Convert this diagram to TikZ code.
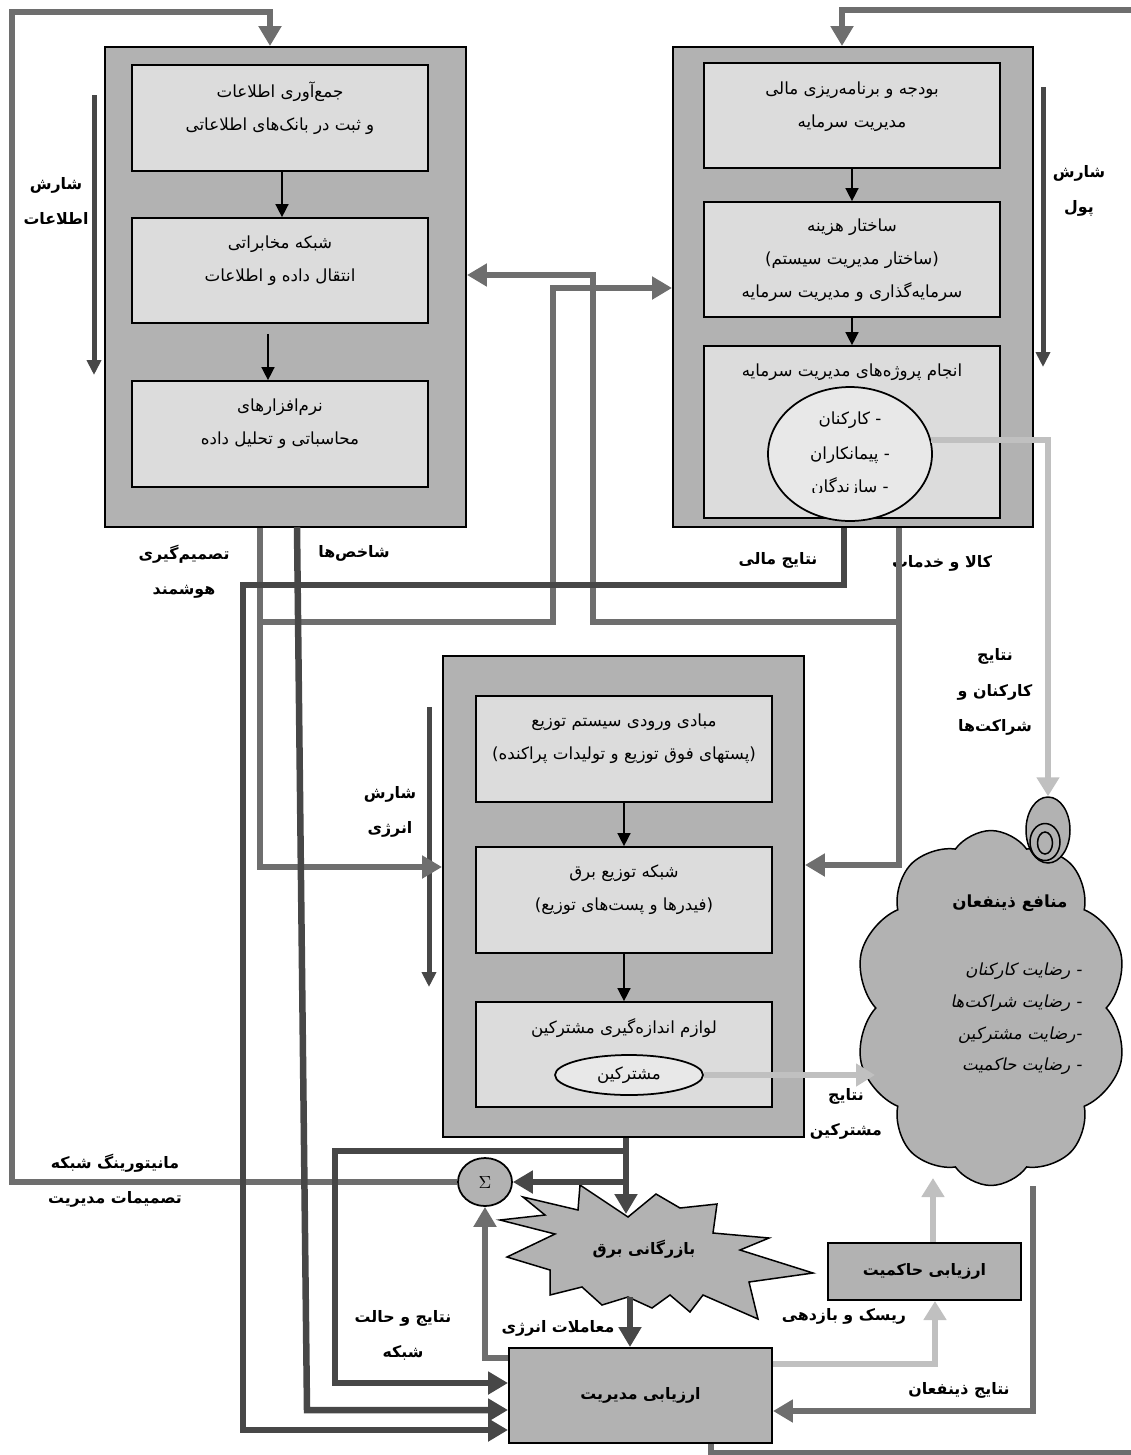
\documentclass[tikz,border=0pt]{standalone}
\usepackage{fontspec}
\newfontfamily\arabicfont[Script=Arabic]{DejaVu Sans}
\newfontfamily\arabicslant[Script=Arabic,FakeSlant=0.2]{DejaVu Sans}
\TeXXeTstate=1
\usetikzlibrary{calc}
\usetikzlibrary{arrows.meta}
\usetikzlibrary{shapes.geometric}
\usetikzlibrary{shapes.symbols}

\definecolor{boxgray}{HTML}{B2B2B2}
\definecolor{ingray}{HTML}{DCDCDC}
\definecolor{ellgray}{HTML}{E8E8E8}
\definecolor{midline}{HTML}{6E6E6E}
\definecolor{darkline}{HTML}{474747}
\definecolor{lightline}{HTML}{C0C0C0}

\newcommand{\fa}[1]{\beginR #1\endR}

\tikzset{
	outerbox/.style={draw, line width=0.04cm, fill=boxgray, minimum width=7.22cm, minimum height=9.6cm, inner sep=0pt},
	inbox/.style={draw, line width=0.035cm, fill=ingray, minimum width=5.92cm, inner sep=0pt},
	ovalbox/.style={draw, ellipse, line width=0.035cm, fill=ellgray, inner sep=0pt, font=\arabicfont\fontsize{9.5}{18.7}\selectfont},
	evalbox/.style={draw, line width=0.04cm, fill=boxgray, inner sep=0pt, font=\arabicfont\bfseries\fontsize{9}{20}\selectfont},
	sigbox/.style={draw, ellipse, line width=0.035cm, fill=boxgray, minimum width=1.08cm, minimum height=0.96cm, inner sep=0pt},
	boxtext/.style={font=\arabicfont\fontsize{9.5}{18.7}\selectfont, align=center, inner sep=0pt},
	flowlabel/.style={font=\arabicfont\bfseries\fontsize{9}{20}\selectfont, align=center, inner sep=0pt},
	wishtext/.style={font=\arabicslant\fontsize{9.5}{18}\selectfont, inner sep=0pt, anchor=east},
	gline/.style={draw=midline, line width=0.13cm, -{Triangle[length=0.4cm,width=0.44cm]}},
	dline/.style={draw=darkline, line width=0.13cm, -{Triangle[length=0.4cm,width=0.44cm]}},
	lline/.style={draw=lightline, line width=0.12cm, -{Triangle[length=0.38cm,width=0.44cm]}},
	tarrow/.style={draw, line width=0.03cm, -{Triangle[length=0.26cm,width=0.26cm]}},
	sarrow/.style={draw=darkline, line width=0.1cm, -{Triangle[length=0.3cm,width=0.28cm]}}
}

\begin{document}
\begin{tikzpicture}[x=0.02cm, y=-0.02cm]
	\useasboundingbox (0,0) rectangle (1131,1455);
	\clip (0,0) rectangle (1131,1455);

	% information block
	\node[outerbox]	(info)	at (285.5,287)	{};
	\node[inbox, minimum height=2.12cm]	(i1)	at (280,118)	{};
	\node[inbox, minimum height=2.1cm]	(i2)	at (280,270.5)	{};
	\node[inbox, minimum height=2.12cm]	(i3)	at (280,434)	{};
	\node[boxtext]	(i1t)	at (280,108)	{\fa{جمع‌آوری اطلاعات}\\\fa{و ثبت در بانک‌های اطلاعاتی}};
	\node[boxtext]	(i2t)	at (280,261)	{\fa{شبکه مخابراتی}\\\fa{انتقال داده و اطلاعات}};
	\node[boxtext]	(i3t)	at (280,424)	{\fa{نرم‌افزارهای}\\\fa{محاسباتی و تحلیل داده}};

	% money block
	\node[outerbox, minimum width=7.2cm]	(fin)	at (853,287)	{};
	\node[inbox, minimum height=2.1cm]	(f1)	at (852,115.5)	{};
	\node[inbox, minimum height=2.3cm]	(f2)	at (852,259.5)	{};
	\node[inbox, minimum height=3.44cm]	(f3)	at (852,432)	{};
	\node[boxtext]	(f1t)	at (852,107)	{\fa{بودجه و برنامه‌ریزی مالی}\\\fa{مدیریت سرمایه}};
	\node[boxtext]	(f2t)	at (852,260)	{\fa{ساختار هزینه}\\\fa{(ساختار مدیریت سیستم)}\\\fa{سرمایه‌گذاری و مدیریت سرمایه}};
	\node[boxtext]	(f3t)	at (852,372)	{\fa{انجام پروژه‌های مدیریت سرمایه}};
	\node[ovalbox, minimum width=3.28cm, minimum height=2.68cm]	(wk)	at (850,454)	{};
	\node[boxtext]	(wk1)	at (850,420)	{\fa{- کارکنان}};
	\node[boxtext]	(wk2)	at (850,455)	{\fa{- پیمانکاران}};
	\begin{scope}
		\clip (760,465) rectangle (940,492);
		\node[boxtext]	(wk3)	at (850,487)	{\fa{- سازندگان}};
	\end{scope}

	% energy block
	\node[outerbox, minimum height=9.62cm]	(en)	at (623.5,896.5)	{};
	\node[inbox, minimum height=2.12cm]	(e1)	at (624,749)	{};
	\node[inbox, minimum height=2.12cm]	(e2)	at (624,900)	{};
	\node[inbox, minimum height=2.1cm]	(e3)	at (624,1054.5)	{};
	\node[boxtext]	(e1t)	at (624,739)	{\fa{مبادی ورودی سیستم توزیع}\\\fa{(پستهای فوق توزیع و تولیدات پراکنده)}};
	\node[boxtext]	(e2t)	at (624,890)	{\fa{شبکه توزیع برق}\\\fa{(فیدرها و پست‌های توزیع)}};
	\node[boxtext]	(e3t)	at (624,1028)	{\fa{لوازم اندازه‌گیری مشترکین}};
	\node[ovalbox, minimum width=2.96cm, minimum height=0.8cm]	(sub)	at (629,1075)	{\fa{مشترکین}};

	% stakeholders cloud
	\node[cloud, cloud puffs=10, cloud puff arc=110, draw, line width=0.03cm, fill=boxgray, minimum width=5.46cm, minimum height=7.1cm, inner sep=0pt]	(cl)	at (991,1008)	{};
	\node[draw, ellipse, line width=0.03cm, fill=boxgray, minimum width=0.88cm, minimum height=1.32cm, inner sep=0pt]	(bump)	at (1048,830)	{};
	\draw[line width=0.03cm] (1045,842) ellipse [x radius=0.3cm, y radius=0.37cm];
	\draw[line width=0.03cm] (1045,843) ellipse [x radius=0.15cm, y radius=0.22cm];
	\node[flowlabel, font=\arabicfont\bfseries\fontsize{9.5}{20}\selectfont]	(clt)	at (1010,903)	{\fa{منافع ذینفعان}};
	\node[wishtext]	(w1)	at (1082,971)	{\fa{- رضایت کارکنان}};
	\node[wishtext]	(w2)	at (1082,1003)	{\fa{- رضایت شراکت‌ها}};
	\node[wishtext]	(w3)	at (1082,1035)	{\fa{-رضایت مشترکین}};
	\node[wishtext]	(w4)	at (1082,1066)	{\fa{- رضایت حاکمیت}};

	% market star
	\draw[line width=0.03cm, fill=boxgray] (523,1197) -- (578,1210) -- (580,1185) -- (628,1217) -- (656,1194) -- (680,1208) -- (717,1204) -- (713,1233) -- (769,1238) -- (740,1250) -- (813,1273) -- (749,1282) -- (758,1319) -- (703,1295) -- (690,1312) -- (670,1295) -- (652,1308) -- (628,1297) -- (602,1305) -- (582,1287) -- (550,1295) -- (550,1270) -- (507,1257) -- (555,1234) -- (500,1220) -- (545,1215) -- cycle;
	\coordinate (mkTop)	at (626,1214);
	\coordinate (mkBot)	at (630,1297);
	\node[flowlabel]	(mkt)	at (644,1249)	{\fa{بازرگانی برق}};

	% evaluation boxes
	\node[evalbox, minimum width=5.26cm, minimum height=1.9cm]	(mgmt)	at (640.5,1395.5)	{\fa{ارزیابی مدیریت}};
	\node[evalbox, minimum width=3.86cm, minimum height=1.14cm]	(gov)	at (924.5,1271.5)	{\fa{ارزیابی حاکمیت}};
	\node[sigbox]	(sig)	at (485,1182)	{$\Sigma$};

	% labels
	\node[flowlabel]	(lInfo)	at (56,201)	{\fa{شارش}\\\fa{اطلاعات}};
	\node[flowlabel]	(lMoney)	at (1079,191)	{\fa{شارش}\\\fa{پول}};
	\node[flowlabel]	(lEnergy)	at (390,812)	{\fa{شارش}\\\fa{انرژی}};
	\node[flowlabel]	(lDec)	at (184,572)	{\fa{تصمیم‌گیری}\\\fa{هوشمند}};
	\node[flowlabel]	(lInd)	at (354,553)	{\fa{شاخص‌ها}};
	\node[flowlabel]	(lFin)	at (778,560)	{\fa{نتایج مالی}};
	\node[flowlabel]	(lGood)	at (942,563)	{\fa{کالا و خدمات}};
	\node[flowlabel]	(lStaff)	at (995,692)	{\fa{نتایج}\\\fa{کارکنان و}\\\fa{شراکت‌ها}};
	\node[flowlabel]	(lSub)	at (846,1114)	{\fa{نتایج}\\\fa{مشترکین}};
	\node[flowlabel]	(lMon)	at (115,1181)	{\fa{مانیتورینگ شبکه}\\\fa{تصمیمات مدیریت}};
	\node[flowlabel]	(lNet)	at (403,1335)	{\fa{نتایج و حالت}\\\fa{شبکه}};
	\node[flowlabel]	(lTrade)	at (558,1328)	{\fa{معاملات انرژی}};
	\node[flowlabel]	(lRisk)	at (844,1316)	{\fa{ریسک و بازدهی}};
	\node[flowlabel]	(lStake)	at (959,1390)	{\fa{نتایج ذینفعان}};

	% arrows inside blocks
	\draw[tarrow] ([xshift=0.04cm]i1.south) -- ([xshift=0.04cm]i2.north);
	\draw[tarrow] ([xshift=-0.24cm,yshift=-0.2cm]i2.south) -- ([xshift=-0.24cm]i3.north);
	\draw[tarrow] (f1.south) -- (f2.north);
	\draw[tarrow] (f2.south) -- (f3.north);
	\draw[tarrow] (e1.south) -- (e2.north);
	\draw[tarrow] (e2.south) -- (e3.north);

	% flow arrows
	\coordinate (sI1) at (94,95);	\coordinate (sI2) at (94,375);
	\coordinate (sM1) at (1043,87);	\coordinate (sM2) at (1043,367);
	\coordinate (sE1) at (429,707);	\coordinate (sE2) at (429,987);
	\draw[sarrow] (sI1) -- (sI2);
	\draw[sarrow] (sM1) -- (sM2);
	\draw[sarrow] (sE1) -- (sE2);

	% feedback loops
	\coordinate (tl) at (270,12);
	\coordinate (lc) at (12,12);
	\draw[gline] (sig.west) -| (lc) -- (tl) -- (tl |- info.north);
	\coordinate (tr) at (842,10);
	\coordinate (mb) at (711,1453);
	\coordinate (rc) at (1140,1453);
	\draw[gline] (mb |- mgmt.south) -- (mb) -- (rc) |- (tr) -- (tr |- fin.north);

	% decision and goods
	\coordinate (dE) at (260,867);
	\coordinate (jD) at (260,622);
	\coordinate (dF) at (553,288);
	\draw[gline] (dE |- info.south) -- (dE) -- (en.west |- dE);
	\draw[gline] (jD) -| (dF) -- (fin.west |- dF);
	\coordinate (gE) at (899,865);
	\coordinate (jG) at (899,622);
	\coordinate (gI) at (593,275);
	\draw[gline] (gE |- fin.south) -- (gE) -- (en.east |- gE);
	\draw[gline] (jG) -| (gI) -- (info.east |- gI);

	% indicators and financial results
	\coordinate (kT) at (297,527);
	\coordinate (kM) at (307,1410);
	\draw[dline] (kT) -- (kM) -- (mgmt.west |- kM);
	\coordinate (fR) at (844,585);
	\coordinate (fM) at (243,1430);
	\draw[dline] (fR |- fin.south) -- (fR) -| (fM) -- (mgmt.west |- fM);

	% energy to market
	\coordinate (eL) at (626,1151);
	\coordinate (eM) at (335,1383);
	\draw[dline] (mkTop |- en.south) -- (mkTop);
	\draw[dline] (eL) -| (eM) -- (mgmt.west |- eM);
	\draw[dline] (mkTop |- sig.east) -- (sig.east);
	\draw[dline] (mkBot) -- (mkBot |- mgmt.north);
	\coordinate (mS) at (485,1358);
	\draw[gline] (mgmt.west |- mS) -| (sig.south);

	% results to stakeholders
	\draw[lline] (wk.10) -| (bump.north);
	\coordinate (cS) at (875,1075);
	\draw[lline] (sub.east) -- (cS);
	\coordinate (rG) at (935,1364);
	\draw[lline] (mgmt.east |- rG) -| (rG |- gov.south);
	\coordinate (gC) at (933,1178);
	\draw[lline] (gC |- gov.north) -- (gC);
	\coordinate (cB) at (1033,1186);
	\coordinate (cM) at (1033,1411);
	\draw[gline] (cB) -- (cM) -- (mgmt.east |- cM);
\end{tikzpicture}
\end{document}
